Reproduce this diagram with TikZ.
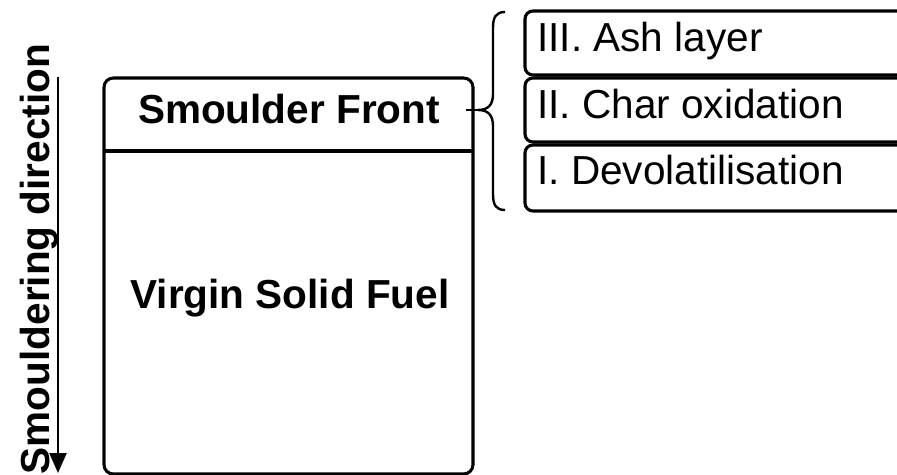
\documentclass[tikz,border=0pt]{standalone}
\usepackage{fontspec}
\setmainfont{Liberation Sans}
\usetikzlibrary{arrows.meta}
\begin{document}
\begin{tikzpicture}[x=0.75pt,y=-0.75pt,
  bigtxt/.style={font=\fontsize{30.4}{36}\selectfont\bfseries, inner sep=0pt},
  layertxt/.style={font=\fontsize{30.4}{36}\selectfont, inner sep=0pt, anchor=base west},
  layerbox/.style={draw, line width=2.3pt, rounded corners=6pt},
  boxline/.style={line width=2.3pt}]
\useasboundingbox (0,0) rectangle (897,475);
% main box
\draw[boxline, rounded corners=7pt] (104,78) rectangle (473,474);
\draw[boxline] (104,151) -- (473,151);
\node[bigtxt, anchor=base] (front) at (289,123) {Smoulder Front};
\node[bigtxt, anchor=base] (fuel) at (290,308) {Virgin Solid Fuel};
% direction arrow
\coordinate (astart) at (58,77);
\coordinate (aend) at (58,473);
\draw[line width=1.8pt, -{Triangle[length=20*0.75pt, width=17*0.75pt]}] (astart) -- (aend);
\node[bigtxt, rotate=90, anchor=base] (dir) at (49,259) {Smouldering direction};
% layer boxes
\draw[layerbox] (525,11) rectangle (905,75);
\draw[layerbox] (525,78) rectangle (905,142);
\draw[layerbox] (525,145) rectangle (905,211);
\node[layertxt] (ash) at (537,51) {III. Ash layer};
\node[layertxt] (char) at (537,118) {II. Char oxidation};
\node[layertxt] (devol) at (537,184) {I. Devolatilisation};
% brace
\coordinate (btop) at (505,12);
\coordinate (btip) at (466,110);
\coordinate (bbot) at (505,210);
\draw[line width=1.8pt] (btop) .. controls (496,12) and (493,17) .. (493,28)
  -- (493,94) .. controls (493,105) and (488,110) .. (478,110)
  .. controls (488,110) and (493,115) .. (493,126)
  -- (493,194) .. controls (493,205) and (496,210) .. (bbot);
\draw[line width=1pt] (btip) -- (478,110);
\end{tikzpicture}
\end{document}
